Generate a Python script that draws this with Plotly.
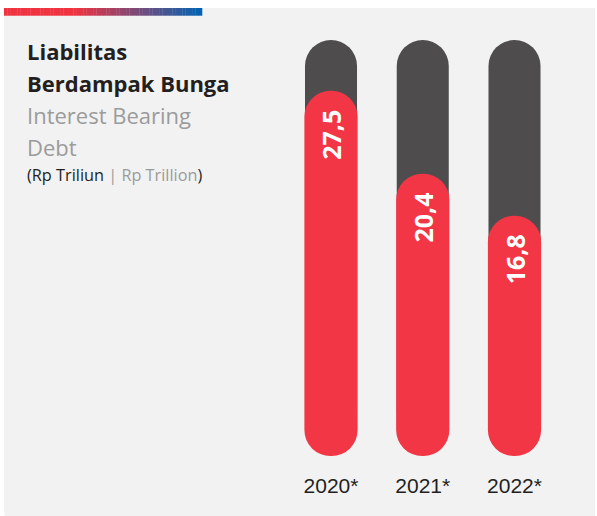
import plotly.graph_objects as go

# ---- data ----
years = ["2020*", "2021*", "2022*"]
values = [27.5, 20.4, 16.8]
title_id = ["Liabilitas", "Berdampak Bunga"]
title_en = ["Interest Bearing", "Debt"]
unit_id = "Rp Triliun"
unit_en = "Rp Trillion"

# ---- style ----
W, H = 597, 516
RED = "#f23645"
DARK = "#4e4c4d"
BG = "#f2f2f2"
TXT = "#231f20"
GREY = "#9b9b9b"

TOP_PX, BOT_PX = 40, 456
PLOT_H = BOT_PX - TOP_PX
SCALE = 11.68            # px per unit
Y_MIN = -44 / SCALE      # room below zero for the rounded foot of the pill
Y_MAX = Y_MIN + PLOT_H / SCALE
CAT_PX = 91.75
BAR_W = 0.58
TRACK_W = BAR_W - 1.2 / CAT_PX
X_RANGE = [-331 / CAT_PX, (W - 331) / CAT_PX]

def px_x(px):
    return px / W

def px_y(py):
    return (BOT_PX - py) / PLOT_H

fig = go.Figure()

# grey track (bottom layer), from zero to the top of the axis
fig.add_trace(go.Bar(
    x=years, y=[Y_MAX] * len(years), xaxis="x", yaxis="y",
    width=TRACK_W, marker=dict(color=DARK, cornerradius="50%", line_width=0),
    hoverinfo="skip", showlegend=False,
))
# red value pills: start at the bottom of the axis, end at the value (both ends rounded)
fig.add_trace(go.Bar(
    x=years, y=[v - Y_MIN for v in values], base=[Y_MIN] * len(values),
    xaxis="x2", yaxis="y2",
    width=BAR_W, marker=dict(color=RED, cornerradius="50%", line_width=0),
    showlegend=False, hoverinfo="skip",
))

shapes = []
# panel background with rounded bottom-left corner
r = 22
x0, y0, x1, y1 = 4, 8, 595, 530
path = (f"M {px_x(x0)},{px_y(y0)} L {px_x(x1)},{px_y(y0)} L {px_x(x1)},{px_y(y1)} "
        f"L {px_x(x0 + r)},{px_y(y1)} Q {px_x(x0)},{px_y(y1)} {px_x(x0)},{px_y(y1 - r)} Z")
shapes.append(dict(type="path", xref="paper", yref="paper", path=path,
                   fillcolor=BG, line_width=0, layer="below"))

# gradient strip
c0 = (239, 51, 64)
c1 = (0, 100, 180)
gx0, gx1, gy0, gy1 = 4, 202, 8, 15.7
flat_end = 75
n = 60
step = (gx1 - gx0) / n
for i in range(n):
    xa = gx0 + i * step
    xm = xa + step / 2
    t = 0 if xm < flat_end else (xm - flat_end) / (gx1 - flat_end)
    col = tuple(round(c0[k] + (c1[k] - c0[k]) * t) for k in range(3))
    shapes.append(dict(type="rect", xref="paper", yref="paper",
                       x0=px_x(xa), x1=px_x(xa + step + 0.3), y0=px_y(gy1), y1=px_y(gy0),
                       fillcolor=f"rgb{col}", line_width=0, layer="below"))

annotations = []
# value labels, rotated, just below the top of each red bar
for yr, v in zip(years, values):
    annotations.append(dict(
        text="<b>" + f"{v:.1f}".replace(".", ",") + "</b>",
        x=yr, y=v, xref="x2", yref="y2", xanchor="center", yanchor="top",
        yshift=-17, textangle=-90, showarrow=False,
        font=dict(family="Open Sans", size=25, color="white")))

TX = px_x(25)
font_title = "Open Sans"
for txt, yc in zip(title_id, [51, 83]):
    annotations.append(dict(text=f"<b>{txt}</b>", x=TX, y=px_y(yc), xref="paper", yref="paper",
                            xanchor="left", yanchor="middle", showarrow=False,
                            font=dict(family=font_title, size=22, color=TXT)))
for txt, yc in zip(title_en, [115, 147]):
    annotations.append(dict(text=txt, x=TX, y=px_y(yc), xref="paper", yref="paper",
                            xanchor="left", yanchor="middle", showarrow=False,
                            font=dict(family=font_title, size=22, color=GREY)))
annotations.append(dict(
    text=f"({unit_id} <span style='color:{GREY}'>| {unit_en}</span>)",
    x=TX, y=px_y(175), xref="paper", yref="paper", xanchor="left", yanchor="middle",
    showarrow=False, font=dict(family=font_title, size=16.3, color=TXT)))

hidden_x = dict(range=X_RANGE, visible=False, fixedrange=True, overlaying="x")
hidden_y = dict(range=[Y_MIN, Y_MAX], visible=False, fixedrange=True, overlaying="y")

fig.update_layout(
    width=W, height=H,
    margin=dict(l=0, r=0, t=TOP_PX, b=H - BOT_PX, pad=0),
    paper_bgcolor="white", plot_bgcolor="rgba(0,0,0,0)",
    barmode="group", separators=",.",
    shapes=shapes, annotations=annotations,
    xaxis=dict(range=X_RANGE, showgrid=False, zeroline=False,
               showline=False, ticks="", ticklabelstandoff=15,
               tickfont=dict(family="Liberation Sans", size=21, color=TXT), fixedrange=True),
    yaxis=dict(range=[Y_MIN, Y_MAX], visible=False, fixedrange=True),
    xaxis2=hidden_x, yaxis2=hidden_y,
)

fig.write_html("out.html", config={"displayModeBar": False},
               post_script="document.body.style.margin='0';")
